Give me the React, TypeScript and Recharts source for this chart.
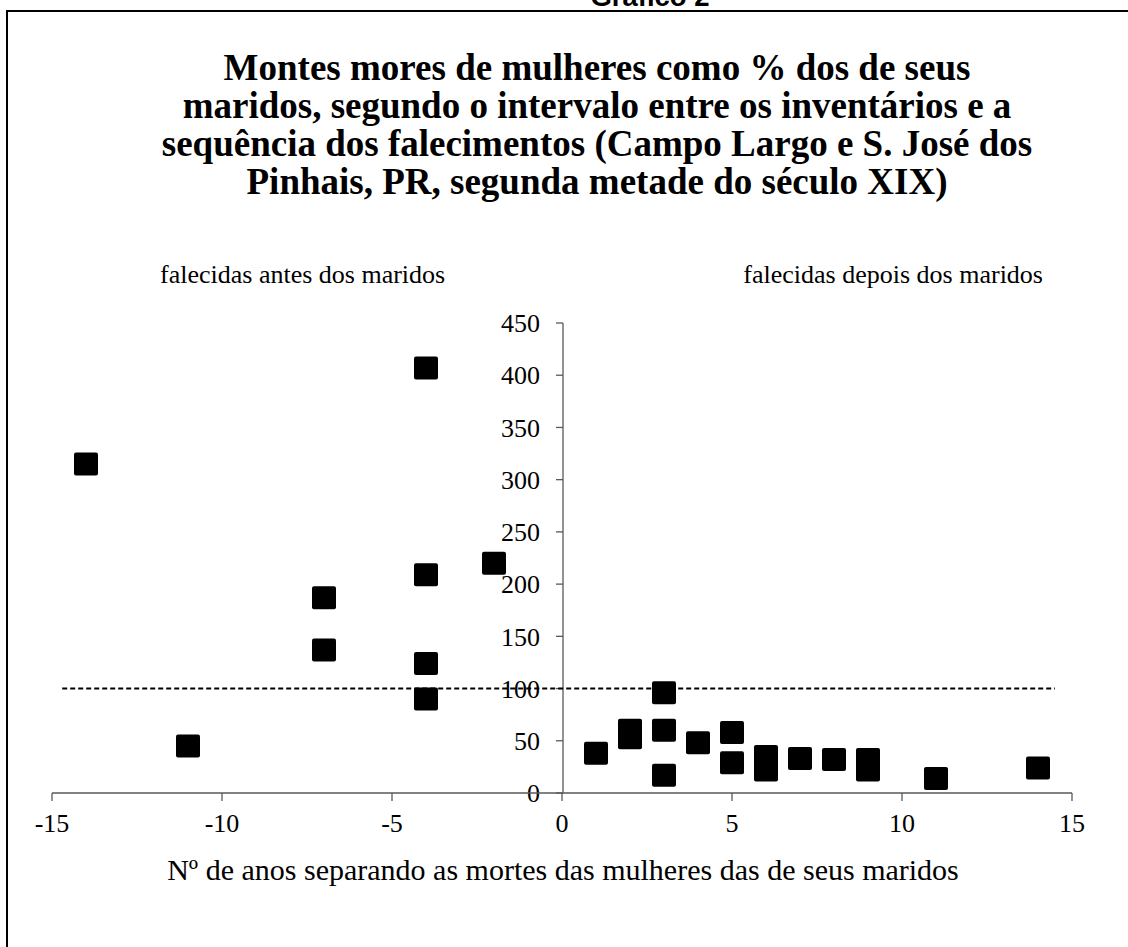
import React from 'react';
import { ScatterChart, Scatter, XAxis, YAxis, ReferenceLine } from 'recharts';

const beforeX = [-14, -11, -7, -7, -4, -4, -4, -4, -2];
const beforeY = [315, 45, 187, 137, 407, 209, 124, 90, 220];
const afterX = [1, 2, 2, 3, 3, 3, 4, 5, 5, 6, 6, 7, 8, 9, 9, 11, 14];
const afterY = [38, 60, 53, 96, 60, 17, 48, 58, 29, 35, 22, 33, 32, 32, 22, 14, 24];
const xTicks = [-15, -10, -5, 0, 5, 10, 15];
const yTicks = [0, 50, 100, 150, 200, 250, 300, 350, 400, 450];
const refLevel = 100;
const refStart = -14.7;
const refEnd = 14.5;

const titleLines = [
  'Montes mores de mulheres como % dos de seus',
  'maridos, segundo o intervalo entre os inventários e a',
  'sequência dos falecimentos (Campo Largo e S. José dos',
  'Pinhais, PR, segunda metade do século XIX)',
];
const leftNote = 'falecidas antes dos maridos';
const rightNote = 'falecidas depois dos maridos';
const xTitle = 'Nº de anos separando as mortes das mulheres das de seus maridos';
const topCaption = 'Gráfico 2';

const beforeData = beforeX.map((x, i) => ({ x, y: beforeY[i] }));
const afterData = afterX.map((x, i) => ({ x, y: afterY[i] }));
const axisAnchor = yTicks.map((y) => ({ x: 0, y }));

const serif = '"Liberation Serif", "Times New Roman", serif';
const axisColor = '#595959';
const tickStyle = { fill: '#000', fontFamily: serif, fontSize: 26 };

const SquareMark = (props: any) => {
  const { cx, cy } = props;
  if (cx == null || cy == null) return null;
  return <rect x={cx - 12} y={cy - 11.5} width={24} height={23} rx={2} fill="#000" />;
};

const NoMark = () => null;

export default function App() {
  return (
    <div style={{ position: 'absolute', left: 0, top: 0, width: 1128, height: 947, overflow: 'hidden', background: '#fff' }}>
      <div style={{ position: 'absolute', left: 500, width: 300, top: -19, textAlign: 'center', fontFamily: '"Liberation Sans", Arial, sans-serif', fontWeight: 'bold', fontSize: 27.5, color: '#000' }}>
        {topCaption}
      </div>
      <div style={{ position: 'absolute', left: 6, top: 10, width: 1140, height: 1000, border: '2px solid #000', boxSizing: 'border-box' }} />
      <div style={{ position: 'absolute', left: 0, width: 1194, top: 49, textAlign: 'center', fontFamily: serif, fontWeight: 'bold', fontSize: 37, lineHeight: '38px', color: '#000', whiteSpace: 'nowrap' }}>
        {titleLines.map((l, i) => (
          <div key={i}>{l}</div>
        ))}
      </div>
      <div style={{ position: 'absolute', left: 160, top: 260, fontFamily: serif, fontSize: 26, color: '#000', whiteSpace: 'nowrap' }}>{leftNote}</div>
      <div style={{ position: 'absolute', right: 1128 - 1043, top: 260, fontFamily: serif, fontSize: 26, color: '#000', whiteSpace: 'nowrap' }}>{rightNote}</div>
      <div style={{ position: 'absolute', left: 0, width: 1126, top: 853, textAlign: 'center', fontFamily: serif, fontSize: 30, color: '#000', whiteSpace: 'nowrap' }}>{xTitle}</div>

      <div style={{ position: 'absolute', left: 0, top: 0 }}>
        <ScatterChart width={600} height={947} margin={{ top: 323, right: 0, bottom: 154, left: 0 }}>
          <XAxis type="number" dataKey="x" domain={[0, 1]} hide />
          <YAxis
            type="number"
            dataKey="y"
            width={563}
            domain={[0, 450]}
            ticks={yTicks}
            interval={0}
            tickSize={7}
            tickMargin={16}
            axisLine={{ stroke: axisColor, strokeWidth: 1.3 }}
            tickLine={{ stroke: axisColor, strokeWidth: 1.3 }}
            tick={tickStyle}
          />
          <Scatter data={axisAnchor} shape={<NoMark />} isAnimationActive={false} />
        </ScatterChart>
      </div>

      <div style={{ position: 'absolute', left: 0, top: 0 }}>
        <ScatterChart width={1128} height={947} margin={{ top: 323, right: 56, bottom: 124, left: 52 }}>
          <XAxis
            type="number"
            dataKey="x"
            domain={[-15, 15]}
            ticks={xTicks}
            interval={0}
            height={30}
            tickSize={8}
            tickMargin={13}
            axisLine={{ stroke: axisColor, strokeWidth: 1.3 }}
            tickLine={{ stroke: axisColor, strokeWidth: 1.3 }}
            tick={tickStyle}
          />
          <YAxis type="number" dataKey="y" domain={[0, 450]} hide />
          <ReferenceLine
            segment={[{ x: refStart, y: refLevel }, { x: refEnd, y: refLevel }]}
            stroke="#000"
            strokeWidth={2}
            strokeDasharray="5 3"
          />
          <Scatter data={beforeData} shape={<SquareMark />} isAnimationActive={false} />
          <Scatter data={afterData} shape={<SquareMark />} isAnimationActive={false} />
        </ScatterChart>
      </div>
    </div>
  );
}
